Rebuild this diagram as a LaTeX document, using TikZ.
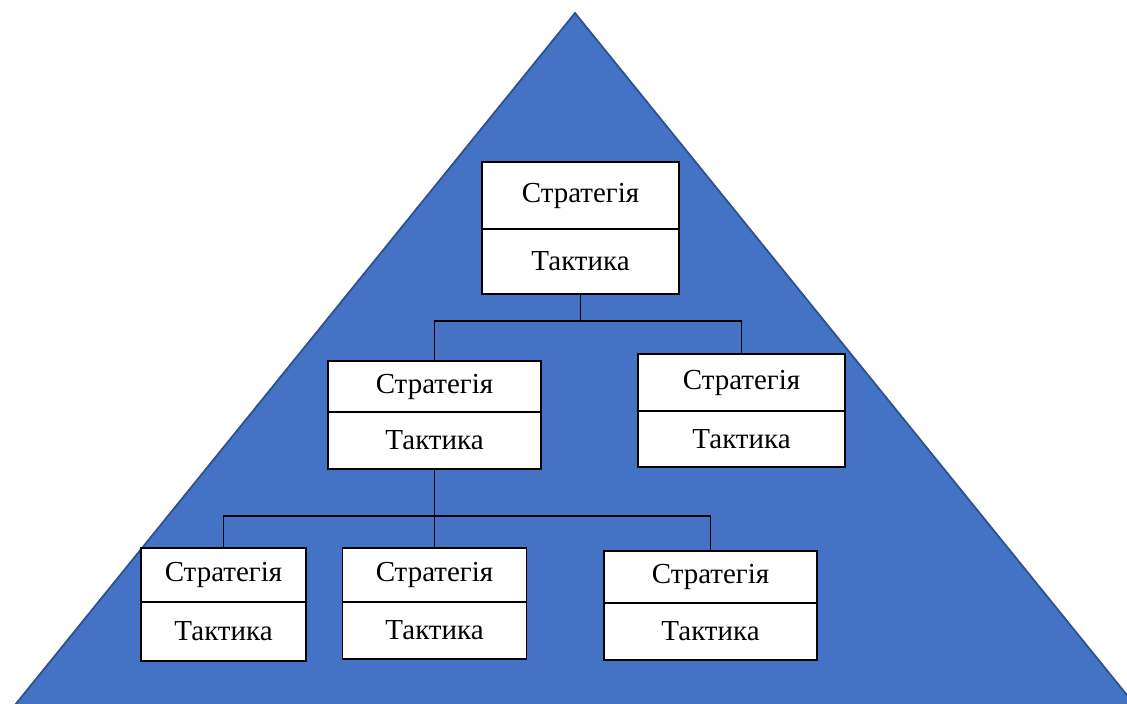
\documentclass[tikz,border=0pt]{standalone}
\usepackage{fontspec}
\setmainfont{Liberation Serif}
\definecolor{pyrfill}{HTML}{4472C4}
\definecolor{pyredge}{HTML}{2F528F}
\tikzset{
  cell/.style={draw=black, fill=white, line width=1.8pt, inner sep=0pt,
    font=\fontsize{29}{33}\selectfont, anchor=center},
  link/.style={draw=black, line width=1.3pt}
}
% #1 name, #2 centre x, #3 width, #4 top y, #5 divider y, #6 bottom y
\newcommand{\cellpair}[6]{%
  \node[cell, minimum width={#3*1pt}, minimum height={(#5-#4)*1pt}]
    (s#1) at (#2, {(#4+#5)/2}) {Стратегія};
  \node[cell, minimum width={#3*1pt}, minimum height={(#6-#5)*1pt}]
    (t#1) at (#2, {(#5+#6)/2}) {Тактика};
}
\begin{document}
\begin{tikzpicture}[x=1pt, y=-1pt]
  \useasboundingbox (0,0) rectangle (1127,704);
  \clip (0,0) rectangle (1127,704);
  % pyramid background
  \draw[fill=pyrfill, draw=pyredge, line width=1.8pt, line join=miter]
    (575,13) -- (15,705) -- (1135,705) -- cycle;
  % strategy / tactic boxes
  \cellpair{1}{580.5}{197}{162}{229}{294}
  \cellpair{2}{434.5}{213}{361}{412}{469}
  \cellpair{3}{741.5}{207}{354}{411}{467}
  \cellpair{4}{223.5}{165}{548}{602}{661}
  \cellpair{5}{434.5}{184}{548}{602}{659}
  \cellpair{6}{710.5}{213}{551}{603}{660}
  % junctions of the tree
  \coordinate (j1) at (580.5,321);
  \coordinate (j2) at (434.5,516);
  % connectors
  \draw[link] (t1.south) -- (j1);
  \draw[link] (s2.north) |- (j1);
  \draw[link] (s3.north) |- (j1);
  \draw[link] (t2.south) -- (s5.north);
  \draw[link] (s4.north) |- (j2);
  \draw[link] (s6.north) |- (j2);
\end{tikzpicture}
\end{document}
